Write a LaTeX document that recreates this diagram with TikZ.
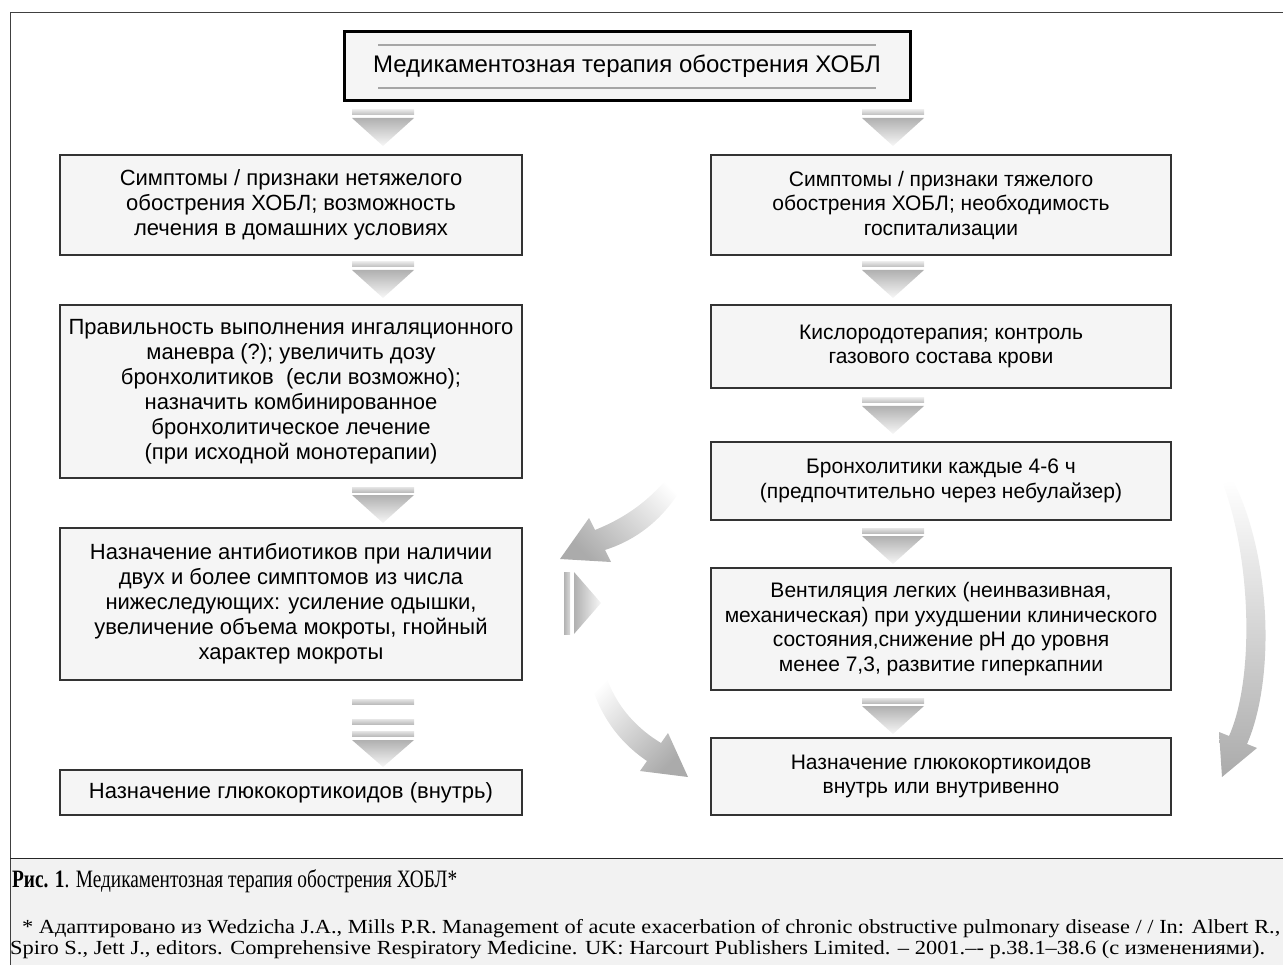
\documentclass[tikz,border=0pt]{standalone}
\usepackage{fontspec}
\setmainfont{Liberation Serif}
\setsansfont{Liberation Sans}
\usepackage{tikz}

\tikzset{
  stepbox/.style={draw=black!80, line width=1.5pt, fill=gray!8, align=center, inner sep=0pt, font=\sffamily\fontsize{22}{25}\selectfont},
  rstepbox/.style={stepbox, font=\sffamily\fontsize{21}{24.5}\selectfont},
  titlebox/.style={draw=black, line width=3pt, fill=gray!8, inner sep=0pt, font=\sffamily\fontsize{24}{28}\selectfont},
  barfill/.style={top color=gray!20, bottom color=gray!52},
  headfill/.style={top color=gray!62, bottom color=gray!6},
}

\begin{document}
\begin{tikzpicture}[x=1pt,y=-1pt]
\useasboundingbox (0,0) rectangle (1283,965);

\fill[gray!10] (10,858) rectangle (1283,965);
\draw[black!75, line width=1pt] (1283,13) -- (10,13) -- (10,965);
\draw[black!85, line width=1pt] (10,858) -- (1283,858);

\node[titlebox, minimum width=566, minimum height=69] (title) at (627,66.5) {Медикаментозная терапия обострения ХОБЛ};
\draw[gray!70, line width=1.2pt] (378,45) -- (876,45);
\draw[gray!70, line width=1.2pt] (378,88) -- (876,88);

\node[stepbox, minimum width=462, minimum height=100] (mild) at (291,205) {Симптомы / признаки нетяжелого\\обострения ХОБЛ; возможность\\лечения в домашних условиях};
\node[stepbox, minimum width=462, minimum height=173] (inhal) at (291,391.5) {Правильность выполнения ингаляционного\\маневра (?); увеличить дозу\\бронхолитиков\ \ (если возможно);\\назначить комбинированное\\бронхолитическое лечение\\(при исходной монотерапии)};
\node[stepbox, minimum width=462, minimum height=152] (antib) at (291,604) {Назначение антибиотиков при наличии\\двух и более симптомов из числа\\нижеследующих: усиление одышки,\\увеличение объема мокроты, гнойный\\характер мокроты};
\node[stepbox, minimum width=462, minimum height=45] (gcoral) at (291,792.5) {Назначение глюкокортикоидов (внутрь)};

\node[rstepbox, minimum width=460, minimum height=100] (severe) at (941,205) {Симптомы / признаки тяжелого\\обострения ХОБЛ; необходимость\\госпитализации};
\node[rstepbox, minimum width=460, minimum height=83] (oxygen) at (941,346.5) {Кислородотерапия; контроль\\газового состава крови};
\node[rstepbox, minimum width=460, minimum height=78] (bronch) at (941,481) {Бронхолитики каждые 4-6 ч\\(предпочтительно через небулайзер)};
\node[rstepbox, minimum width=460, minimum height=122] (vent) at (941,629) {Вентиляция легких (неинвазивная,\\механическая) при ухудшении клинического\\состояния,снижение pH до уровня\\менее 7,3, развитие гиперкапнии};
\node[rstepbox, minimum width=460, minimum height=77] (gciv) at (941,776.5) {Назначение глюкокортикоидов\\внутрь или внутривенно};

\foreach \cx/\ty in {383/110, 893/110, 383/262, 893/262, 383/487, 893/398, 893/528, 893/698}{
  \shade[barfill] (\cx-31,\ty) rectangle (\cx+31,\ty+5);
  \shade[headfill] (\cx-31,\ty+8) -- (\cx+31,\ty+8) -- (\cx,\ty+36) -- cycle;
}
\foreach \ty in {699,719,731}
  \shade[barfill] (352,\ty) rectangle (414,\ty+5);
\shade[headfill] (352,740) -- (414,740) -- (383,767) -- cycle;

\shade[left color=gray!60, right color=gray!30] (564,572) rectangle (570,634);
\shade[left color=gray!62, right color=gray!6] (574,572) -- (574,634) -- (601,603) -- cycle;

\shade[top color=white, bottom color=gray!66, shading angle=-45]
  (687,479) .. controls (668,514) and (642,538) .. (605,550) -- (611,562) -- (560,559)
  -- (589,518) -- (595,530) .. controls (630,516) and (654,496) .. (673,471) -- cycle;
\shade[top color=white, bottom color=gray!66, shading angle=45]
  (603,667) .. controls (613,702) and (633,726) .. (661,743) -- (668,733) -- (688,777)
  -- (640,771) -- (647,761) .. controls (616,740) and (596,710) .. (587,669) -- cycle;
\shade[top color=white, middle color=gray!12, bottom color=gray!66]
  (1233,480) .. controls (1272,558) and (1275,680) .. (1247,744) -- (1257,748) -- (1222,777)
  -- (1219,732) -- (1229,736) .. controls (1254,680) and (1252,562) .. (1223,484) -- cycle;

\node[anchor=base west, inner sep=0pt] (capt) at (12,887) {\resizebox{445pt}{\height}{\fontsize{25}{29}\selectfont\textbf{Рис. 1}. Медикаментозная терапия обострения ХОБЛ*}};
\node[anchor=base west, inner sep=0pt] (note1) at (22,933) {\resizebox{1258pt}{\height}{\fontsize{20}{24}\selectfont * Адаптировано из Wedzicha J.A., Mills P.R. Management of acute exacerbation of chronic obstructive pulmonary disease / / In: Albert R.,}};
\node[anchor=base west, inner sep=0pt] (note2) at (10,954) {\resizebox{1255pt}{\height}{\fontsize{20}{24}\selectfont Spiro S., Jett J., editors. Comprehensive Respiratory Medicine. UK: Harcourt Publishers Limited. – 2001.–- p.38.1–38.6 (с изменениями).}};

\end{tikzpicture}
\end{document}
